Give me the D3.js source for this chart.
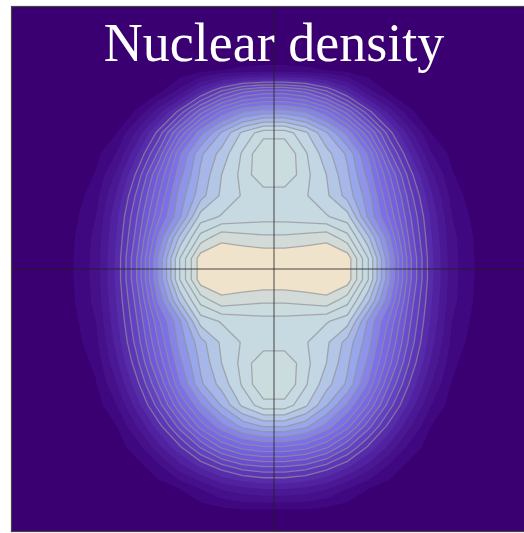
<!DOCTYPE html>
<html><head><meta charset="utf-8">
<script src="https://cdn.jsdelivr.net/npm/d3@7"></script>
<style>html,body{margin:0;padding:0;background:#fff;overflow:hidden}</style>
</head><body><svg id="chart" width="524" height="533"></svg>
<script>
// Sample positions (fm) of the density grid, left to right and top to bottom
const xCoords = d3.range(26).map(i => -10 + i * 0.8);
const yCoords = d3.range(26).map(j => 10 - j * 0.8);

// Density on the grid (contour-level units), one row per y, top row first
const density = [
  [0,0,0,0,0,0,0,0,0,0,0,0,0, 0,0,0,0,0,0,0,0,0,0,0,0,0],
  [0,0,0,0,0,0,0,0,0,0,0,0,0, 0,0,0,0,0,0,0,0,0,0,0,0,0],
  [0,0,0,0,0,0,0,0,0,0,0,0,0, 0,0,0,0,0,0,0,0,0,0,0,0,0],
  [0,0,0,0,0,0,0,0,0.2,0.6,1.0,1.2,1.3, 1.3,1.2,1.0,0.6,0.2,0,0,0,0,0,0,0,0],
  [0,0,0,0,0,0,0.1,0.7,2.3,4.8,7.0,8.6,9.3, 9.3,8.6,7.0,4.8,2.3,0.7,0.1,0,0,0,0,0,0],
  [0,0,0,0,0,0.2,1.2,3.6,6.4,9.6,12.2,13.9,14.5, 14.5,13.9,12.2,9.6,6.4,3.6,1.2,0.2,0,0,0,0,0],
  [0,0,0,0,0.1,1.0,3.4,6.4,10.2,13.6,16.1,18.2,19.6, 19.6,18.2,16.1,13.6,10.2,6.4,3.4,1.0,0.1,0,0,0,0],
  [0,0,0,0.1,0.7,2.1,5.0,8.3,12.8,15.8,17.4,19.14,20.95, 20.95,19.14,17.4,15.8,12.8,8.3,5.0,2.1,0.7,0.1,0,0,0],
  [0,0,0,0.2,1.1,3.3,6.4,10.1,13.6,16.2,18.0,19.3,20.95, 20.95,19.3,18.0,16.2,13.6,10.1,6.4,3.3,1.1,0.2,0,0,0],
  [0,0,0,0.5,1.6,4.2,7.4,11.0,14.4,16.6,18.2,19.1,19.35, 19.35,19.1,18.2,16.6,14.4,11.0,7.4,4.2,1.6,0.5,0,0,0],
  [0,0,0.1,0.8,2.0,4.8,8.1,11.8,14.8,18.4,19.1,19.4,19.6, 19.6,19.4,19.1,18.4,14.8,11.8,8.1,4.8,2.0,0.8,0.1,0,0],
  [0,0,0.2,1.0,2.3,5.1,8.6,13.2,17.2,20.4,21.7,21.4,21.2, 21.2,21.4,21.7,20.4,17.2,13.2,8.6,5.1,2.3,1.0,0.2,0,0],
  [0,0,0.3,1.05,2.4,5.3,9.2,14.2,19.0,22.6,22.9,22.9,22.8, 22.8,22.9,22.9,22.6,19.0,14.2,9.2,5.3,2.4,1.05,0.3,0,0],
  [0,0,0.3,1.05,2.4,5.3,9.2,14.2,19.0,22.6,22.9,22.9,22.8, 22.8,22.9,22.9,22.6,19.0,14.2,9.2,5.3,2.4,1.05,0.3,0,0],
  [0,0,0.2,1.0,2.3,5.1,8.6,13.2,17.2,20.4,21.7,21.4,21.2, 21.2,21.4,21.7,20.4,17.2,13.2,8.6,5.1,2.3,1.0,0.2,0,0],
  [0,0,0.1,0.8,2.0,4.8,8.1,11.8,14.8,18.4,19.1,19.4,19.6, 19.6,19.4,19.1,18.4,14.8,11.8,8.1,4.8,2.0,0.8,0.1,0,0],
  [0,0,0,0.6,1.7,4.4,7.6,11.1,14.4,16.6,18.2,19.1,19.35, 19.35,19.1,18.2,16.6,14.4,11.1,7.6,4.4,1.7,0.6,0,0,0],
  [0,0,0,0.2,1.3,3.8,6.8,10.3,13.7,16.2,18.0,19.3,20.95, 20.95,19.3,18.0,16.2,13.7,10.3,6.8,3.8,1.3,0.2,0,0,0],
  [0,0,0,0.1,0.9,3.0,5.8,9.0,12.8,15.8,17.4,19.14,20.95, 20.95,19.14,17.4,15.8,12.8,9.0,5.8,3.0,0.9,0.1,0,0,0],
  [0,0,0,0,0.5,2.0,4.6,7.5,10.9,13.8,16.1,18.2,19.6, 19.6,18.2,16.1,13.8,10.9,7.5,4.6,2.0,0.5,0,0,0,0],
  [0,0,0,0,0.2,1.0,3.1,5.6,8.4,11.4,13.6,15.3,16.1, 16.1,15.3,13.6,11.4,8.4,5.6,3.1,1.0,0.2,0,0,0,0],
  [0,0,0,0,0.1,0.5,1.6,3.7,5.8,8.1,10.2,11.4,11.9, 11.9,11.4,10.2,8.1,5.8,3.7,1.6,0.5,0.1,0,0,0,0],
  [0,0,0,0,0,0.1,0.6,1.6,3.4,5.0,6.3,7.3,7.7, 7.7,7.3,6.3,5.0,3.4,1.6,0.6,0.1,0,0,0,0,0],
  [0,0,0,0,0,0,0.1,0.5,1.0,2.0,3.1,3.7,4.0, 4.0,3.7,3.1,2.0,1.0,0.5,0.1,0,0,0,0,0,0],
  [0,0,0,0,0,0,0,0,0.1,0.4,0.7,0.9,0.9, 0.9,0.9,0.7,0.4,0.1,0,0,0,0,0,0,0,0],
  [0,0,0,0,0,0,0,0,0,0,0,0,0, 0,0,0,0,0,0,0,0,0,0,0,0,0]
];

// Contour levels and the fill colour of each band
const levels = d3.range(1, 23);
const colorStops = [0, 1, 3, 6, 9, 12, 15, 18, 20, 21, 22];
const colorValues = ["#3a0072", "#3f0880", "#4a1892", "#5d36b8", "#7058d8", "#7c70e8", "#98a6ec", "#c2d6e3", "#cbdcdf", "#d3dbd9", "#efe3cb"];
const lineFrom = 6;
const title = "Nuclear density";

const width = 524, height = 533;
const plot = { left: 12, top: 7, size: 524 };

const nx = xCoords.length, ny = yCoords.length;
const dx = xCoords[1] - xCoords[0], dy = yCoords[1] - yCoords[0];
const x = d3.scaleLinear([xCoords[0], xCoords[nx - 1]], [plot.left, plot.left + plot.size]);
const y = d3.scaleLinear([yCoords[0], yCoords[ny - 1]], [plot.top, plot.top + plot.size]);
const bandColor = d3.scaleLinear().domain(colorStops).range(colorValues).clamp(true);

// contour grid coordinate c sits at sample index c - 0.5
const path = d3.geoPath(d3.geoTransform({
  point(cx, cy) { this.stream.point(x(xCoords[0] + (cx - 0.5) * dx), y(yCoords[0] + (cy - 0.5) * dy)); }
}));

const values = density.flat();
const bands = d3.contours().size([nx, ny]).thresholds(levels)(values);

const svg = d3.select("#chart").attr("width", width).attr("height", height);
svg.append("clipPath").attr("id", "plot-clip").append("rect")
  .attr("x", plot.left).attr("y", plot.top).attr("width", plot.size).attr("height", plot.size);
const g = svg.append("g").attr("clip-path", "url(#plot-clip)");

g.append("rect").attr("x", plot.left).attr("y", plot.top).attr("width", plot.size).attr("height", plot.size)
  .attr("fill", bandColor(0));
g.selectAll("path.band").data(bands).join("path").attr("class", "band")
  .attr("d", path).attr("fill", d => bandColor(d.value));
g.selectAll("path.iso").data(bands.filter(d => d.value >= lineFrom)).join("path").attr("class", "iso")
  .attr("d", path).attr("fill", "none").attr("stroke", "rgba(145,145,150,0.7)").attr("stroke-width", 1.3);

// axes through the origin
g.append("line").attr("x1", x(0)).attr("x2", x(0)).attr("y1", plot.top).attr("y2", plot.top + plot.size)
  .attr("stroke", "#222").attr("stroke-opacity", 0.8);
g.append("line").attr("x1", plot.left).attr("x2", plot.left + plot.size).attr("y1", y(0)).attr("y2", y(0))
  .attr("stroke", "#222").attr("stroke-opacity", 0.8);

svg.append("rect").attr("x", plot.left - 0.5).attr("y", plot.top - 0.5)
  .attr("width", plot.size + 1).attr("height", plot.size + 1)
  .attr("fill", "none").attr("stroke", "#444").attr("stroke-width", 1.2);

svg.append("text").attr("x", x(0)).attr("y", 61).attr("text-anchor", "middle")
  .attr("fill", "#fff").attr("font-family", "'Liberation Serif','Times New Roman',serif")
  .attr("font-size", 54).text(title);
</script></body></html>
